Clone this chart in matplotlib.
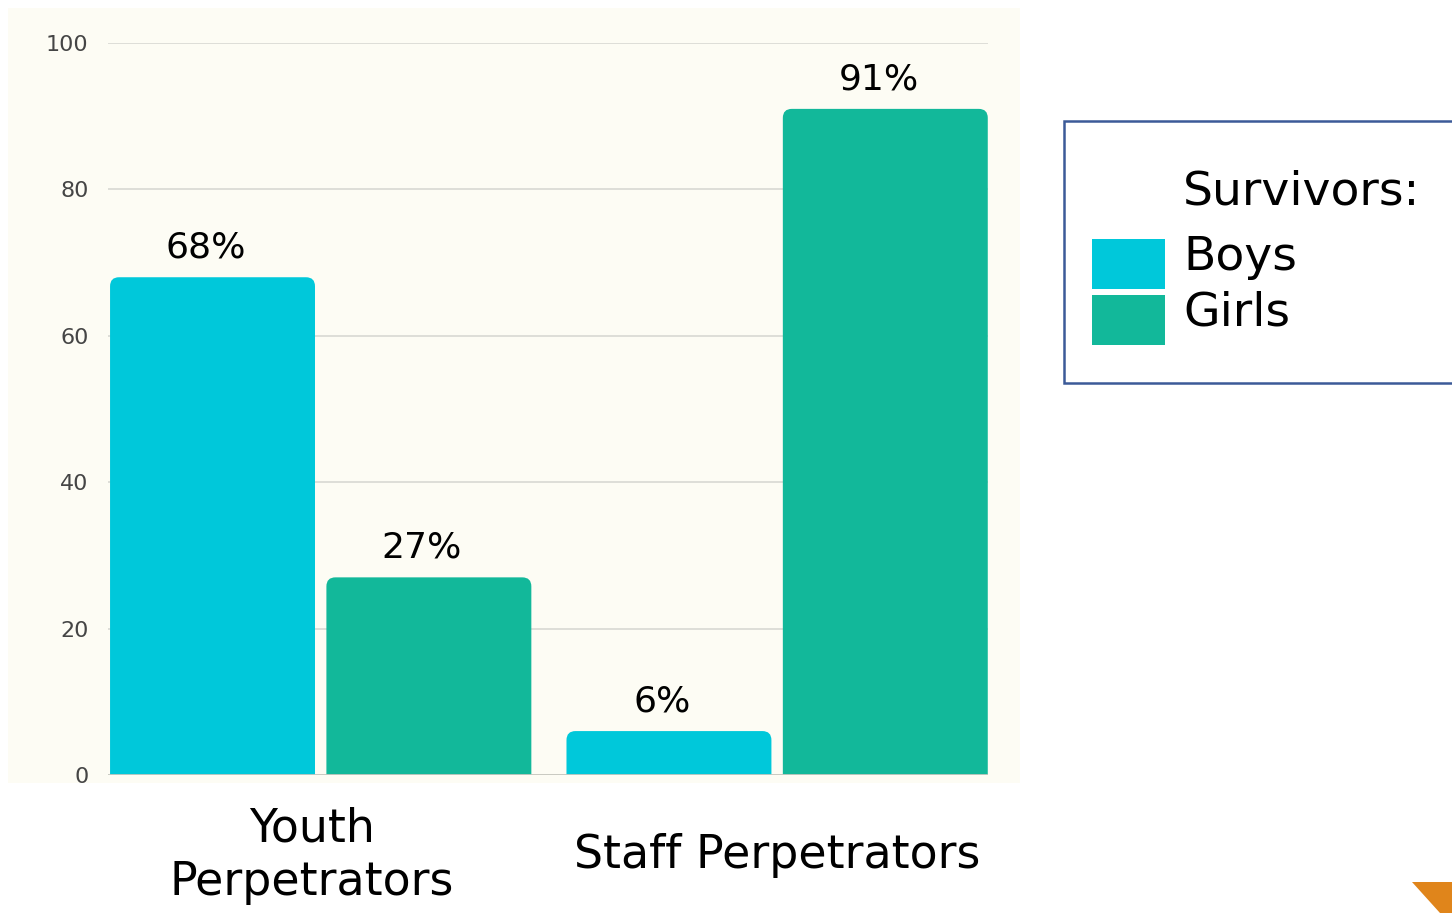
import matplotlib.pyplot as plt
from matplotlib.patches import FancyBboxPatch, Rectangle, Polygon

categories = ["Youth\nPerpetrators", "Staff Perpetrators"]
boys = [68, 6]
girls = [27, 91]
yticks = [0, 20, 40, 60, 80, 100]
legend_title = "Survivors:"
series_names = ["Boys", "Girls"]
colors = ["#00c8da", "#12b89a"]

W, H = 1452, 913
fig = plt.figure(figsize=(W / 100, H / 100), dpi=100)
fig.patch.set_facecolor("white")

# cream panel behind the chart
fig.patches.append(Rectangle((8 / W, 1 - 783 / H), 1012 / W, 775 / H,
                             transform=fig.transFigure, facecolor="#fdfcf4",
                             edgecolor="none", zorder=-5))

ax = fig.add_axes([108 / W, 1 - 775 / H, 880 / W, 732 / H])
ax.set_zorder(1)
ax.set_facecolor("none")
ax.set_xlim(-0.466, 1.462)
ax.set_ylim(0, 100)

bw = 0.449
off = 0.237
# data units per pixel ratio, so the corner radius looks round
asp = (100 / 732) / (1.928 / 880)
r = 9 / 880 * 1.928

for i, (b, g) in enumerate(zip(boys, girls)):
    for val, dx, c in ((b, -off, colors[0]), (g, off, colors[1])):
        x0 = i + dx - bw / 2
        p = FancyBboxPatch((x0, -5), bw, val + 5,
                           boxstyle=f"round,pad=0,rounding_size={r}",
                           mutation_aspect=asp, facecolor=c, edgecolor="none",
                           zorder=3)
        ax.add_patch(p)
        ax.annotate(f"{val}%", (i + dx - 0.015, val), xytext=(0, 14),
                    textcoords="offset points", ha="center", va="baseline",
                    fontsize=26, color="black")

ax.set_yticks(yticks)
ax.set_yticklabels([str(t) for t in yticks], fontsize=16, color="#454545")
ax.grid(axis="y", color="#deded8", linewidth=1.4, zorder=0)
ax.axhline(0, color="#c8c8c0", linewidth=2, zorder=4)
for s in ax.spines.values():
    s.set_visible(False)
ax.tick_params(axis="y", length=0, pad=14)

ax.set_xticks([-0.02, 1])
ax.set_xticklabels(categories, fontsize=33, linespacing=1.25)
for lab in ax.get_xticklabels():
    lab.set_verticalalignment("center")
ax.tick_params(axis="x", length=0, pad=58)

# legend box
fig.patches.append(Rectangle((1064 / W, 1 - 383 / H), 400 / W, 262 / H,
                             transform=fig.transFigure, facecolor="white",
                             edgecolor="#3c5a98", linewidth=1.8, zorder=1))
fig.text(1183 / W, 1 - 192 / H, legend_title, fontsize=34, va="center")
sw_y = [237, 293]
for name, c, y in zip(series_names, colors, sw_y):
    fig.patches.append(Rectangle((1092 / W, 1 - (y + 52) / H), 73 / W, 50 / H,
                                 transform=fig.transFigure, facecolor=c,
                                 edgecolor="none", zorder=2))
    fig.text(1183 / W, 1 - (y + 20) / H, name, fontsize=34, va="center")

# orange corner mark
fig.patches.append(Polygon([(1412 / W, 1 - 882 / H), (1 + 0.01, 1 - 882 / H),
                            (1 + 0.01, 0), (1440 / W, 0)],
                           transform=fig.transFigure, facecolor="#e0851b",
                           edgecolor="none", closed=True))

fig.savefig("out.png", dpi=100)
